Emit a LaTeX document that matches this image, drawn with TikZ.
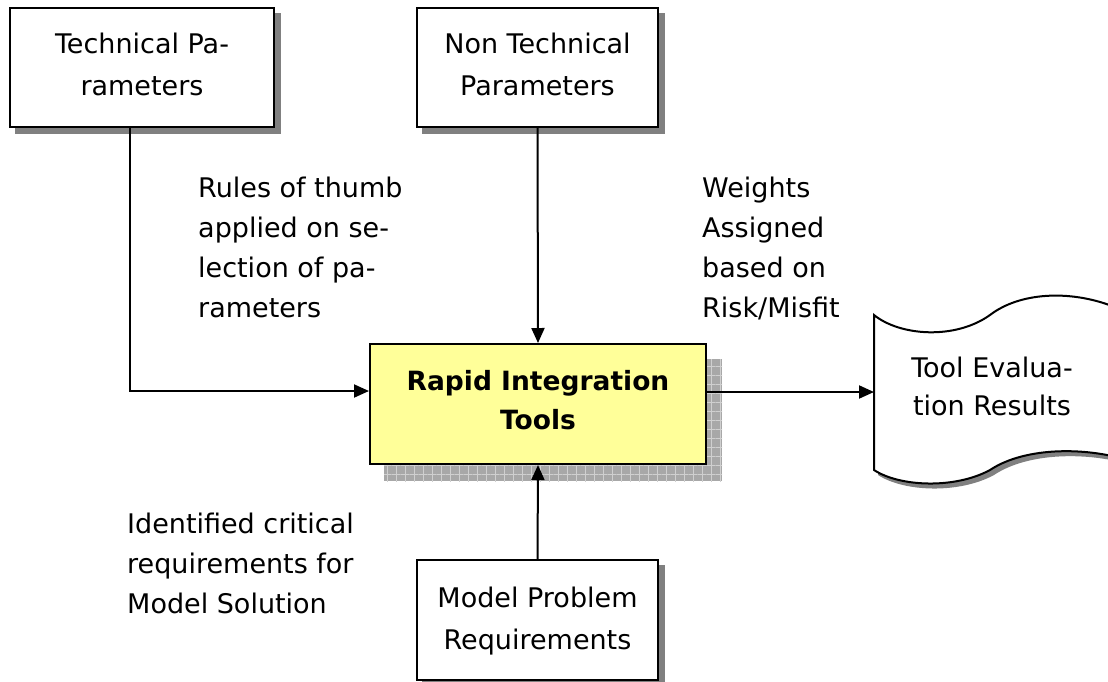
\documentclass[tikz,border=0pt]{standalone}
\usepackage{fontspec}
\setmainfont{DejaVu Sans}
\usetikzlibrary{arrows.meta,backgrounds,patterns.meta}
\definecolor{ritfill}{RGB}{255,255,153}
\definecolor{shadowgray}{RGB}{128,128,128}
\definecolor{hatchbase}{RGB}{168,168,168}
\definecolor{hatchline}{RGB}{208,208,208}
% raised stack of lines: #1 raise of first baseline, #2 column alignment, #3 lines
\newcommand{\linestack}[3]{\raisebox{#1}[0pt][0pt]{\begin{tabular}[t]{@{}#2@{}}#3\end{tabular}}}
\begin{document}
\begin{tikzpicture}[x=1pt,y=-1pt,
  box/.style={draw=black,line width=2pt,fill=white,inner sep=0pt,
    font=\fontsize{27}{42}\selectfont},
  lbl/.style={inner sep=0pt,anchor=west,font=\fontsize{27}{40}\selectfont},
  conn/.style={line width=2pt,-{Triangle[length=15pt,width=13pt]}},
  docline/.style={draw=black,line width=2pt,fill=white},
]
\useasboundingbox (0,0) rectangle (1108,681);

% boxes
\node[box, minimum width=264pt, minimum height=119pt] (tech) at (142,67.5)
   {\linestack{14.5pt}{c}{Technical Pa-\\rameters}};
\node[box, minimum width=241pt, minimum height=119pt] (nontech) at (537.5,67.5)
   {\linestack{14.5pt}{c}{Non Technical\\Parameters}};
\node[box, fill=ritfill, minimum width=336pt, minimum height=120pt,
      font=\bfseries\fontsize{26.5}{39}\selectfont] (rit) at (538,404)
   {\linestack{14pt}{c}{Rapid Integration\\Tools}};
\node[box, minimum width=241pt, minimum height=120pt] (model) at (537.5,620)
   {\linestack{13pt}{c}{Model Problem\\Requirements}};

% shadows
\begin{scope}[on background layer]
  \fill[shadowgray] ([shift={(6,6)}]tech.south west) rectangle ([shift={(6,6)}]tech.north east);
  \fill[shadowgray] ([shift={(6,6)}]nontech.south west) rectangle ([shift={(6,6)}]nontech.north east);
  \fill[shadowgray] ([shift={(6,6)}]model.south west) rectangle ([shift={(6,6)}]model.north east);
  \fill[hatchbase] ([shift={(15,16)}]rit.south west) rectangle ([shift={(15,16)}]rit.north east);
  \fill[pattern={Lines[angle=0,distance=9pt,line width=1pt]},pattern color=hatchline]
     ([shift={(15,16)}]rit.south west) rectangle ([shift={(15,16)}]rit.north east);
  \fill[pattern={Lines[angle=90,distance=9pt,line width=1pt]},pattern color=hatchline]
     ([shift={(15,16)}]rit.south west) rectangle ([shift={(15,16)}]rit.north east);
\end{scope}

% document (tape) shape
\fill[shadowgray] (878,320) .. controls (904,341) and (959,345) .. (994,320)
   .. controls (1024,297) and (1074,295) .. (1116,311) -- (1116,461)
   .. controls (1074,452) and (1024,455) .. (994,475)
   .. controls (959,494) and (904,492) .. (878,475) -- cycle;
\draw[docline] (874,315) .. controls (900,336) and (955,340) .. (990,315)
   .. controls (1020,292) and (1070,290) .. (1112,306) -- (1112,456)
   .. controls (1070,447) and (1020,450) .. (990,470)
   .. controls (955,489) and (900,487) .. (874,470) -- cycle;
\coordinate (docw) at (874,392);
\node[inner sep=0pt, font=\fontsize{27}{38}\selectfont] (res) at (992,377)
   {\linestack{0pt}{c}{Tool Evalua-\\tion Results}};

% labels
\node[lbl] (rules) at (198,197) {\linestack{0pt}{l}{Rules of thumb\\applied on se-\\lection of pa-\\rameters}};
\node[lbl] (weights) at (702,197) {\linestack{0pt}{l}{Weights\\Assigned\\based on\\Risk/Misfit}};
\node[lbl] (ident) at (127,533) {\linestack{0pt}{l}{Identified critical\\requirements for\\Model Solution}};

% connectors
\draw[conn] ([xshift=-12pt]tech.south) |- ([yshift=13pt]rit.west);
\draw[conn] (nontech.south) -- (rit.north);
\draw[conn] (model.north) -- (rit.south);
\draw[conn] ([yshift=12pt]rit.east) -- (docw);
\end{tikzpicture}
\end{document}
